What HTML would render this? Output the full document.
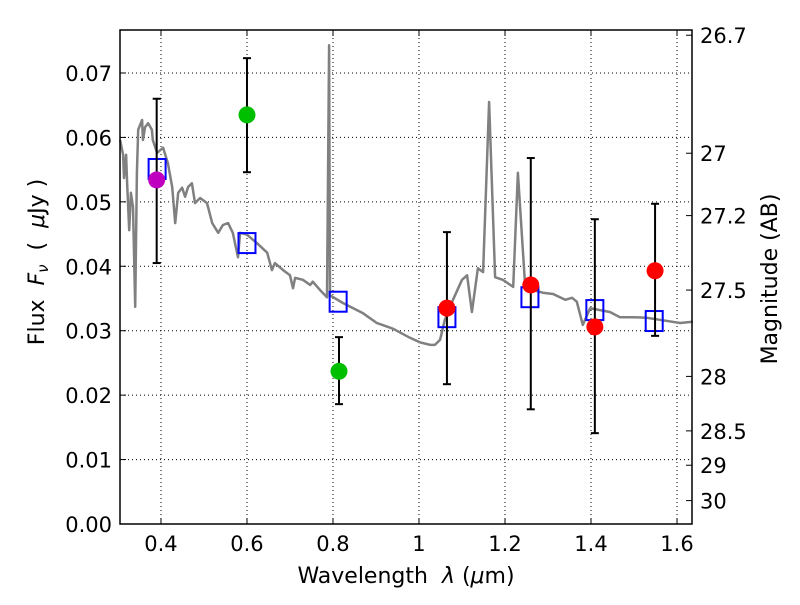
<!DOCTYPE html>
<html><head><meta charset="utf-8"><style>
body{margin:0;background:#fff}
svg text{font-family:"DejaVu Sans","Liberation Sans",sans-serif;fill:#000}
</style></head><body>
<svg id="chart" width="800" height="600" xmlns="http://www.w3.org/2000/svg"></svg>
<script>
const specLam=[0.305,0.312,0.314,0.319,0.321,0.326,0.330,0.335,0.340,0.344,0.347,0.356,0.358,0.363,0.370,0.379,0.381,0.391,0.398,0.405,0.416,0.426,0.433,0.440,0.449,0.456,0.463,0.472,0.479,0.491,0.507,0.519,0.533,0.544,0.556,0.567,0.579,0.584,0.600,0.623,0.647,0.658,0.665,0.684,0.700,0.707,0.712,0.730,0.747,0.753,0.770,0.786,0.791,0.793,0.823,0.870,0.902,0.940,0.979,1.002,1.026,1.037,1.049,1.060,1.079,1.100,1.112,1.123,1.137,1.149,1.163,1.177,1.195,1.219,1.230,1.247,1.265,1.288,1.312,1.340,1.356,1.367,1.381,1.398,1.421,1.444,1.467,1.498,1.530,1.560,1.607,1.637];
const specFlux=[0.0596,0.0573,0.0537,0.0573,0.0534,0.0456,0.0514,0.0492,0.0337,0.0545,0.0612,0.0627,0.0596,0.0616,0.0622,0.0612,0.0596,0.0576,0.0580,0.0584,0.0560,0.0523,0.0467,0.0514,0.0522,0.0508,0.0523,0.0529,0.0498,0.0506,0.0498,0.0467,0.0452,0.0464,0.0467,0.0452,0.0414,0.0452,0.0449,0.0436,0.0421,0.0394,0.0405,0.0394,0.0386,0.0366,0.0382,0.0379,0.0371,0.0376,0.0363,0.0352,0.0743,0.0355,0.0343,0.0327,0.0312,0.0303,0.0289,0.0282,0.0278,0.0278,0.0286,0.0317,0.0348,0.0379,0.0386,0.0329,0.0397,0.0391,0.0655,0.0383,0.0379,0.0368,0.0545,0.0368,0.0363,0.0359,0.0357,0.0348,0.0351,0.0345,0.0309,0.0335,0.0332,0.0329,0.0321,0.0321,0.0320,0.0317,0.0312,0.0314];
const modelLam=[0.391,0.600,0.812,1.065,1.258,1.409,1.547];
const modelFlux=[0.0551,0.0436,0.0345,0.0321,0.0352,0.0332,0.0315];
const obsLam=[0.390,0.600,0.814,1.065,1.260,1.409,1.549];
const obsFlux=[0.0534,0.0635,0.0237,0.0335,0.0371,0.0306,0.0393];
const obsLo=[0.0405,0.0546,0.0186,0.0217,0.0178,0.0141,0.0292];
const obsHi=[0.0660,0.0723,0.0290,0.0453,0.0568,0.0473,0.0497];
const obsColor=['#bf00bf','#00bf00','#00bf00','#ff0000','#ff0000','#ff0000','#ff0000'];
const xTicks=[0.4,0.6,0.8,1.0,1.2,1.4,1.6];
const xTickLabels=['0.4','0.6','0.8','1','1.2','1.4','1.6'];
const yTicks=[0,0.01,0.02,0.03,0.04,0.05,0.06,0.07];
const yTickLabels=['0.00','0.01','0.02','0.03','0.04','0.05','0.06','0.07'];
const magTicks=[26.7,27,27.2,27.5,28,28.5,29,30];
const magTickLabels=['26.7','27','27.2','27.5','28','28.5','29','30'];

const L=120,R=692,T=30,B=524;
const xmin=0.3047,xmax=1.6349,ymin=0,ymax=0.07667;
const X=v=>L+(v-xmin)/(xmax-xmin)*(R-L);
const Y=v=>B-(v-ymin)/(ymax-ymin)*(B-T);
const magY=m=>Y(Math.pow(10,(23.9-m)/2.5));
const svg=document.getElementById('chart');
const NS='http://www.w3.org/2000/svg';
function mk(tag,attrs,parent){const e=document.createElementNS(NS,tag);for(const k in attrs)e.setAttribute(k,attrs[k]);(parent||svg).appendChild(e);return e;}

xTicks.forEach((t,i)=>{
  const g=mk('line',{x1:X(t),x2:X(t),y1:T,y2:B,stroke:'#000','stroke-width':1,'stroke-dasharray':'1,3'});
  
  
  mk('line',{x1:X(t),x2:X(t),y1:B,y2:B-6,stroke:'#000'});
  mk('line',{x1:X(t),x2:X(t),y1:T,y2:T+6,stroke:'#000'});
  const tx=mk('text',{x:X(t),y:B+27,'text-anchor':'middle','font-size':21});
  tx.textContent=xTickLabels[i];
  
  
});
yTicks.forEach((t,i)=>{
  if(t>0){const g=mk('line',{x1:L,x2:R,y1:Y(t),y2:Y(t),stroke:'#000','stroke-width':1,'stroke-dasharray':'1,3'});
  
  }
  mk('line',{x1:L,x2:L+6,y1:Y(t),y2:Y(t),stroke:'#000'});
  const tx=mk('text',{x:L-8,y:Y(t)+8,'text-anchor':'end','font-size':21});
  tx.textContent=yTickLabels[i];
  
  
});
magTicks.forEach((m,i)=>{
  mk('line',{x1:R-6,x2:R,y1:magY(m),y2:magY(m),stroke:'#000'});
  const tx=mk('text',{x:R+8,y:magY(m)+8,'text-anchor':'start','font-size':21});
  tx.textContent=magTickLabels[i];
  
  
});

const sp=mk('polyline',{points:specLam.map((l,i)=>X(l).toFixed(1)+','+Y(specFlux[i]).toFixed(1)).join(' '),fill:'none',stroke:'#808080','stroke-width':2.5,'stroke-linejoin':'round'});



modelLam.forEach((l,i)=>{
  const s=mk('rect',{x:X(l)-8.5,y:Y(modelFlux[i])-10,width:17,height:20,fill:'none',stroke:'#0000ff','stroke-width':2});
  
  
});
obsLam.forEach((l,i)=>{
  const x=X(l);
  mk('line',{x1:x,x2:x,y1:Y(obsLo[i]),y2:Y(obsHi[i]),stroke:'#000','stroke-width':2});
  mk('line',{x1:x-4,x2:x+4,y1:Y(obsLo[i]),y2:Y(obsLo[i]),stroke:'#000','stroke-width':2});
  mk('line',{x1:x-4,x2:x+4,y1:Y(obsHi[i]),y2:Y(obsHi[i]),stroke:'#000','stroke-width':2});
  const c=mk('circle',{cx:x,cy:Y(obsFlux[i]),r:8.5,fill:obsColor[i]});
  
  
});

const fr=mk('rect',{x:L,y:T,width:R-L,height:B-T,fill:'none',stroke:'#000','stroke-width':1.5});


</script>
<svg width="800" height="600" style="position:absolute;left:0;top:0" xmlns="http://www.w3.org/2000/svg">
<text x="406" y="583" text-anchor="middle" font-size="22" xml:space="preserve">Wavelength  <tspan font-style="italic">λ</tspan> (<tspan font-style="italic">μ</tspan>m)</text>
<text transform="translate(44,262) rotate(-90)" text-anchor="middle" font-size="22" xml:space="preserve">Flux  <tspan font-style="italic">F</tspan><tspan font-style="italic" font-size="15" dy="4">ν</tspan><tspan dy="-4">  (  </tspan><tspan font-style="italic">μ</tspan>Jy )</text>
<text transform="translate(777,279) rotate(-90)" text-anchor="middle" font-size="22">Magnitude (AB)</text>
</svg>
</body></html>
